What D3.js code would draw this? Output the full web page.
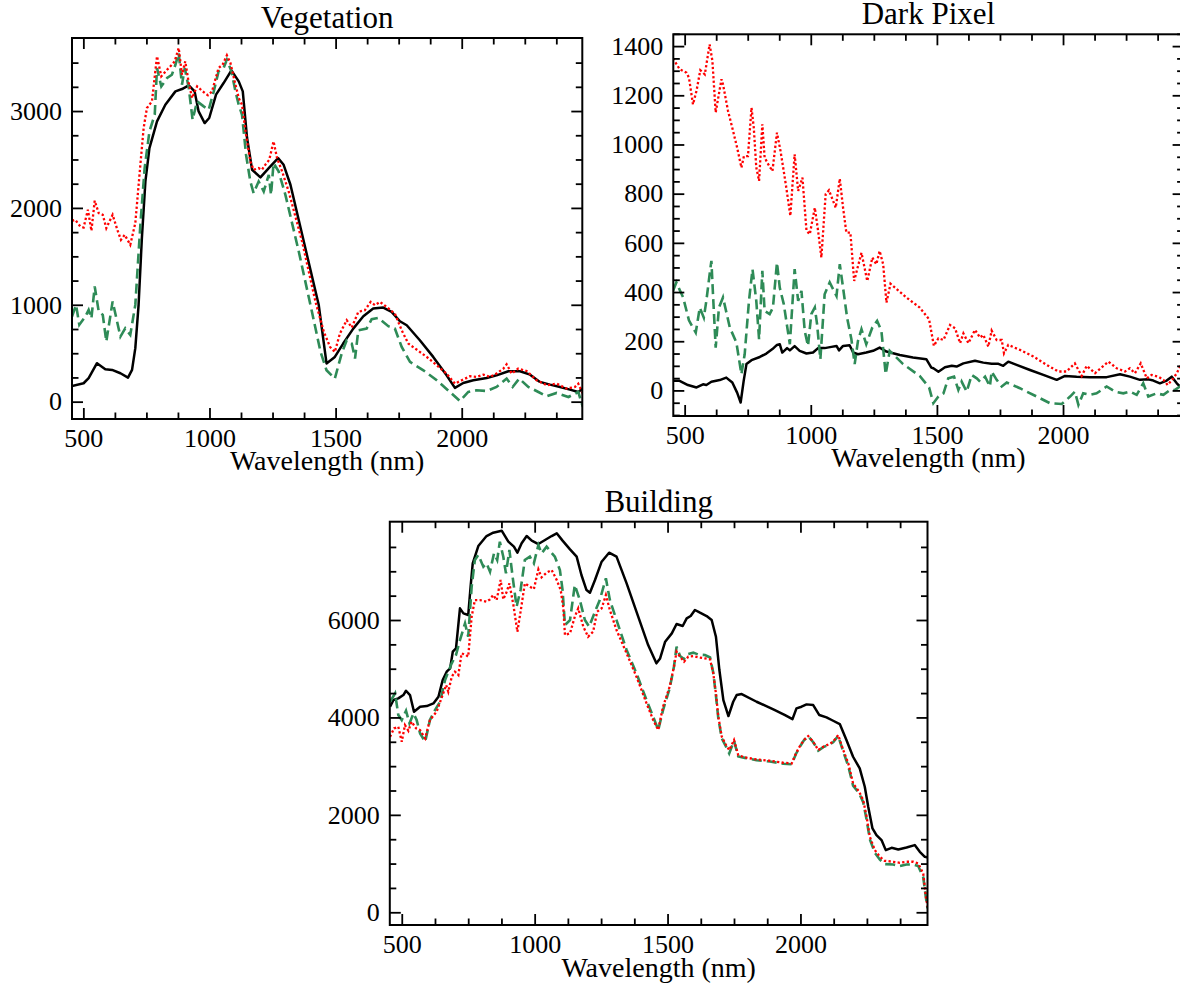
<!DOCTYPE html>
<html>
<head>
<meta charset="utf-8">
<script src="https://cdn.jsdelivr.net/npm/d3@7"></script>
<style>
  body { margin: 0; background: #fff; }
  svg { display: block; }
  text { font-family: "Liberation Serif", "Times New Roman", serif; }
</style>
</head>
<body>
<svg id="chart" width="1180" height="987"></svg>
<script>
// wavelength range shared by all three panels (nm)
const wlRange = [455, 2478];
const xMajor = [500, 1000, 1500, 2000];
const xMinor = [625, 750, 875, 1125, 1250, 1375, 1625, 1750, 1875, 2125, 2250, 2375];

// Vegetation  [wavelength, value]
const vegBlack = [[455,162],[501,190],[521,242],[554,397],[587,335],[614,328],[647,293],[677,248],[693,328],[706,552],[719,1000],[732,1688],[746,2273],[762,2618],[792,2893],[825,3065],[865,3203],[891,3227],[918,3265],[941,3203],[957,2996],[981,2876],[999,2928],[1026,3169],[1056,3289],[1087,3420],[1116,3306],[1132,3203],[1149,2721],[1169,2394],[1202,2315],[1235,2411],[1272,2514],[1294,2445],[1321,2239],[1380,1585],[1433,1000],[1464,395],[1497,462],[1530,600],[1570,754],[1610,882],[1649,961],[1689,971],[1722,927],[1755,830],[1782,789],[1834,634],[1887,462],[1940,272],[1973,142],[2006,193],[2046,221],[2099,245],[2138,272],[2185,314],[2231,314],[2271,279],[2310,204],[2350,176],[2390,152],[2429,124],[2462,100],[2480,135]];
const vegRed = [[455,1867],[468,1877],[488,1808],[501,1798],[518,1981],[532,1764],[545,2074],[561,1946],[577,1929],[591,1791],[616,1929],[637,1757],[649,1671],[664,1722],[686,1619],[706,1843],[726,2445],[739,2824],[752,3031],[772,3100],[792,3565],[809,3358],[832,3427],[851,3478],[862,3513],[878,3651],[891,3375],[904,3513],[918,3289],[931,3134],[951,3255],[973,3203],[994,3162],[1010,3203],[1036,3444],[1052,3478],[1069,3575],[1083,3496],[1100,3306],[1116,3134],[1129,3065],[1145,2755],[1162,2480],[1175,2394],[1195,2411],[1208,2394],[1221,2445],[1237,2497],[1254,2687],[1268,2514],[1288,2377],[1314,2170],[1367,1654],[1420,1034],[1453,724],[1478,565],[1497,513],[1517,703],[1544,841],[1564,765],[1590,927],[1616,944],[1639,1030],[1656,996],[1676,1030],[1702,978],[1735,909],[1762,737],[1788,600],[1821,538],[1861,462],[1901,376],[1940,290],[1973,186],[2000,221],[2033,262],[2059,255],[2086,279],[2112,255],[2138,290],[2165,341],[2178,386],[2198,290],[2224,341],[2257,317],[2297,221],[2337,169],[2376,186],[2416,135],[2449,152],[2462,186],[2480,83]];
const vegGreen = [[455,879],[471,999],[484,793],[508,879],[521,948],[532,861],[545,1189],[561,930],[577,896],[591,620],[616,1034],[647,672],[666,758],[686,689],[706,999],[726,1826],[743,2411],[762,2790],[783,2962],[792,3444],[809,3255],[832,3341],[851,3375],[865,3478],[878,3599],[891,3272],[902,3444],[918,3237],[933,2910],[951,3100],[977,3048],[997,3014],[1017,3203],[1036,3410],[1056,3444],[1069,3530],[1087,3410],[1103,3203],[1116,3065],[1129,2962],[1145,2549],[1162,2273],[1175,2153],[1195,2273],[1215,2170],[1235,2342],[1244,2135],[1254,2463],[1274,2377],[1301,2135],[1354,1550],[1406,930],[1440,517],[1464,324],[1497,238],[1524,496],[1544,634],[1564,600],[1577,445],[1590,737],[1623,754],[1643,851],[1669,865],[1709,779],[1735,754],[1762,565],[1795,410],[1848,324],[1901,221],[1953,100],[1993,7],[2026,100],[2059,117],[2099,110],[2138,152],[2178,238],[2202,152],[2228,238],[2264,152],[2304,100],[2337,55],[2376,90],[2423,48],[2462,100],[2480,-55]];
const vegYMajor = [0, 1000, 2000, 3000];
const vegYMinor = [250, 500, 750, 1250, 1500, 1750, 2250, 2500, 2750, 3250, 3500];

// Dark Pixel
const darkBlack = [[454,39],[480,39],[513,22],[547,12],[573,25],[586,22],[606,35],[639,42],[665,52],[689,32],[708,-9],[722,-49],[734,39],[745,107],[765,123],[798,136],[824,150],[848,168],[866,185],[877,188],[887,154],[906,172],[917,163],[936,180],[956,161],[983,150],[1009,154],[1029,172],[1055,172],[1082,177],[1102,181],[1112,163],[1128,181],[1154,184],[1168,154],[1187,147],[1220,154],[1247,161],[1273,174],[1300,158],[1353,144],[1405,134],[1458,127],[1478,93],[1486,90],[1506,76],[1532,94],[1559,100],[1578,97],[1605,110],[1651,121],[1684,113],[1717,108],[1744,108],[1763,100],[1783,117],[1816,104],[1869,83],[1922,63],[1975,43],[2008,59],[2054,56],[2107,54],[2173,54],[2226,66],[2265,56],[2305,43],[2338,45],[2358,40],[2384,29],[2411,40],[2431,56],[2451,29],[2464,16],[2480,10]];
const darkRed = [[454,1350],[480,1306],[507,1292],[517,1272],[533,1163],[547,1218],[562,1302],[580,1285],[599,1407],[610,1340],[623,1130],[646,1265],[652,1245],[672,1136],[692,1055],[708,987],[725,906],[735,953],[751,953],[765,1150],[774,1069],[784,906],[795,852],[808,1082],[817,947],[831,920],[848,892],[866,1048],[880,974],[901,838],[919,710],[936,960],[950,811],[967,865],[983,649],[996,635],[1016,743],[1029,649],[1042,540],[1059,798],[1072,814],[1099,743],[1115,861],[1128,743],[1141,642],[1157,642],[1172,445],[1201,560],[1224,445],[1244,540],[1260,513],[1273,567],[1287,513],[1300,357],[1316,434],[1379,378],[1432,337],[1469,289],[1488,181],[1506,212],[1526,205],[1552,266],[1572,253],[1592,192],[1605,232],[1625,192],[1651,246],[1671,215],[1684,226],[1704,178],[1717,243],[1737,205],[1757,205],[1766,151],[1783,185],[1829,165],[1882,138],[1935,104],[1981,77],[2014,77],[2047,110],[2074,59],[2094,100],[2127,70],[2180,117],[2213,90],[2246,77],[2265,90],[2285,70],[2308,110],[2332,49],[2351,63],[2378,56],[2398,43],[2415,22],[2437,49],[2451,70],[2464,97],[2480,110]];
const darkGreen = [[454,405],[467,439],[494,378],[517,285],[544,235],[560,337],[576,296],[586,364],[599,472],[606,527],[613,378],[623,174],[636,337],[652,378],[679,256],[705,195],[725,66],[738,147],[755,364],[769,493],[784,364],[795,208],[808,486],[817,323],[837,310],[850,337],[866,520],[877,418],[893,351],[917,188],[936,493],[950,364],[963,405],[976,242],[989,181],[1002,310],[1016,337],[1025,269],[1038,127],[1055,391],[1075,439],[1102,384],[1115,513],[1128,418],[1144,296],[1161,208],[1174,107],[1187,201],[1201,249],[1220,188],[1244,256],[1263,283],[1280,242],[1297,66],[1313,161],[1366,107],[1432,59],[1469,12],[1486,-52],[1506,-25],[1526,-12],[1545,49],[1568,56],[1585,2],[1598,36],[1618,-5],[1638,63],[1658,49],[1671,36],[1691,56],[1710,16],[1717,77],[1737,43],[1757,16],[1777,32],[1829,9],[1896,-25],[1948,-52],[1995,-55],[2028,-25],[2047,-5],[2061,-59],[2080,-12],[2107,-18],[2133,-12],[2173,16],[2206,-5],[2239,-12],[2265,-5],[2292,-18],[2318,29],[2338,-25],[2371,-12],[2398,-18],[2424,2],[2444,2],[2464,16],[2480,20]];
const darkYMajor = [0, 200, 400, 600, 800, 1000, 1200, 1400];
const darkYMinor = [-100, -50, 50, 100, 150, 250, 300, 350, 450, 500, 550, 650, 700, 750, 850, 900, 950, 1050, 1100, 1150, 1250, 1300, 1350, 1450];

// Building
const bldBlack = [[456,4220],[469,4357],[487,4391],[506,4459],[516,4548],[531,4459],[546,4117],[569,4220],[594,4233],[619,4288],[638,4425],[654,4767],[669,4939],[682,5007],[692,5349],[704,5418],[719,6239],[732,6136],[750,6102],[759,6684],[767,7163],[788,7519],[819,7724],[844,7793],[876,7834],[901,7608],[922,7505],[935,7382],[951,7574],[970,7724],[989,7629],[1014,7560],[1039,7642],[1064,7724],[1083,7779],[1105,7629],[1133,7451],[1158,7300],[1176,6924],[1195,6615],[1208,6561],[1227,6821],[1252,7197],[1280,7382],[1308,7300],[1346,6752],[1383,6171],[1427,5486],[1458,5110],[1472,5212],[1491,5555],[1516,5726],[1534,5917],[1557,5876],[1572,6034],[1587,6082],[1603,6205],[1622,6150],[1647,6082],[1666,5999],[1682,5657],[1695,4973],[1710,4357],[1729,4028],[1747,4322],[1760,4459],[1779,4480],[1835,4322],[1898,4165],[1942,4049],[1970,3966],[1985,4186],[2004,4220],[2023,4268],[2048,4254],[2071,4049],[2098,4001],[2123,3932],[2148,3864],[2173,3535],[2198,3193],[2223,2953],[2242,2577],[2255,2166],[2271,1721],[2286,1584],[2305,1482],[2321,1276],[2343,1324],[2368,1290],[2399,1331],[2430,1379],[2449,1242],[2468,1139],[2480,1126]];
const bldRed = [[456,3604],[471,3775],[487,3809],[500,3501],[512,3843],[525,3727],[537,3912],[554,3775],[569,3741],[588,3570],[606,3946],[631,4117],[656,4494],[667,4665],[675,4528],[688,4836],[700,4939],[713,4870],[725,5315],[742,5281],[750,5247],[763,6068],[775,6410],[794,6410],[819,6376],[832,6424],[844,6513],[857,6410],[872,6821],[882,6424],[895,6581],[905,6752],[920,6307],[935,5760],[948,6205],[963,6752],[982,6684],[997,6636],[1014,7040],[1026,6876],[1045,6972],[1064,7026],[1083,6821],[1098,6615],[1108,6239],[1114,5691],[1133,5726],[1151,6068],[1164,6239],[1183,5863],[1201,5657],[1220,5760],[1235,6171],[1252,6239],[1268,6513],[1283,6205],[1308,5794],[1346,5315],[1383,4836],[1421,4288],[1446,3946],[1465,3741],[1483,4220],[1508,4631],[1524,5041],[1534,5349],[1547,5247],[1562,5144],[1578,5247],[1597,5260],[1616,5233],[1641,5212],[1660,5192],[1672,4905],[1682,4494],[1691,4014],[1704,3604],[1720,3433],[1732,3330],[1750,3535],[1766,3227],[1791,3179],[1835,3138],[1885,3111],[1935,3070],[1967,3056],[1983,3262],[1998,3412],[2013,3535],[2029,3617],[2048,3501],[2067,3330],[2086,3398],[2108,3453],[2123,3501],[2142,3638],[2161,3330],[2180,3056],[2198,2645],[2221,2474],[2236,2303],[2249,1961],[2261,1550],[2280,1276],[2299,1139],[2317,1057],[2349,1037],[2374,1016],[2399,1037],[2424,1037],[2443,1002],[2462,797],[2472,318],[2478,113]];
const bldGreen = [[456,4322],[475,4494],[487,4049],[500,3946],[516,4138],[529,3878],[544,4083],[556,3946],[569,3672],[588,3501],[606,3946],[625,4151],[644,4322],[663,4767],[675,4939],[688,5110],[704,5281],[719,5589],[738,5931],[750,5657],[763,6684],[775,7232],[788,7334],[807,7095],[819,7163],[832,6992],[847,7368],[859,7232],[869,7608],[882,7300],[892,6958],[905,7437],[917,6889],[932,6273],[947,6615],[963,7232],[982,7300],[997,7163],[1014,7540],[1026,7368],[1045,7505],[1060,7403],[1076,7300],[1095,7026],[1105,6615],[1114,5897],[1133,5999],[1151,6718],[1170,6410],[1189,5999],[1205,5863],[1227,6171],[1245,6410],[1268,6855],[1283,6410],[1308,5999],[1346,5384],[1383,4904],[1421,4357],[1446,4014],[1465,3741],[1483,4151],[1508,4596],[1524,5041],[1534,5452],[1547,5260],[1562,5200],[1578,5300],[1597,5330],[1616,5290],[1641,5280],[1660,5230],[1672,4920],[1682,4450],[1691,3980],[1704,3570],[1720,3400],[1732,3262],[1750,3520],[1766,3200],[1791,3170],[1835,3120],[1885,3095],[1935,3050],[1967,3040],[1983,3250],[1998,3400],[2013,3530],[2029,3617],[2048,3490],[2067,3320],[2086,3390],[2108,3440],[2123,3490],[2142,3620],[2161,3300],[2180,3000],[2198,2600],[2221,2440],[2236,2260],[2249,1900],[2261,1500],[2280,1220],[2299,1080],[2317,990],[2349,980],[2374,950],[2399,980],[2424,980],[2443,950],[2462,720],[2472,300],[2478,80]];
const bldYMajor = [0, 2000, 4000, 6000];
const bldYMinor = [500, 1000, 1500, 2500, 3000, 3500, 4500, 5000, 5500, 6500, 7000, 7500];

const svg = d3.select("#chart");
const FONT = "Liberation Serif, Times New Roman, serif";
const fmt = d3.format("d");

function drawPanel(p, idx) {
  const w = p.right - p.left, h = p.bottom - p.top;
  const g = svg.append("g").attr("transform", `translate(${p.left},${p.top})`);

  const x = d3.scaleLinear().domain(wlRange).range([0, w]);
  const y = d3.scaleLinear().domain(p.yDomain).range([h, 0]);

  g.append("clipPath").attr("id", "clip" + idx)
    .append("rect").attr("width", w).attr("height", h);

  const line = d3.line().x(d => x(d[0])).y(d => y(d[1]));
  const plot = g.append("g").attr("clip-path", `url(#clip${idx})`);

  // black = original, green dashed, red dotted on top
  plot.append("path").datum(p.black)
    .attr("d", line).attr("fill", "none")
    .attr("stroke", "#000").attr("stroke-width", 2.5)
    .attr("stroke-linejoin", "round");
  plot.append("path").datum(p.green)
    .attr("d", line).attr("fill", "none")
    .attr("stroke", "#2e8b57").attr("stroke-width", 2.6)
    .attr("stroke-dasharray", "10,5");
  plot.append("path").datum(p.red)
    .attr("d", line).attr("fill", "none")
    .attr("stroke", "#ff0000").attr("stroke-width", 2.3)
    .attr("stroke-dasharray", "2.3,2.3");

  // ticks point inward on all four sides
  const axes = [
    [d3.axisBottom(x).tickValues(xMajor).tickSize(-11).tickPadding(10).tickFormat(fmt), `translate(0,${h})`],
    [d3.axisBottom(x).tickValues(xMinor).tickSize(-6.5).tickFormat(""), `translate(0,${h})`],
    [d3.axisTop(x).tickValues(xMajor).tickSize(-11).tickFormat(""), null],
    [d3.axisTop(x).tickValues(xMinor).tickSize(-6.5).tickFormat(""), null],
    [d3.axisLeft(y).tickValues(p.yMajor).tickSize(-11).tickPadding(10).tickFormat(fmt), null],
    [d3.axisLeft(y).tickValues(p.yMinor).tickSize(-6.5).tickFormat(""), null],
    [d3.axisRight(y).tickValues(p.yMajor).tickSize(-11).tickFormat(""), `translate(${w},0)`],
    [d3.axisRight(y).tickValues(p.yMinor).tickSize(-6.5).tickFormat(""), `translate(${w},0)`]
  ];
  axes.forEach(([ax, tr]) => {
    const a = g.append("g").call(ax)
      .attr("font-family", FONT).attr("font-size", 26);
    if (tr) a.attr("transform", tr);
    a.select(".domain").remove();
    a.selectAll(".tick line").attr("stroke", "#000").attr("stroke-width", 1.8);
    a.selectAll("text").style("font-family", FONT).style("font-size", "26px").attr("fill", "#000");
  });

  g.append("rect").attr("width", w).attr("height", h)
    .attr("fill", "none").attr("stroke", "#000").attr("stroke-width", 2);

  g.append("text").attr("x", w / 2).attr("y", -10)
    .attr("text-anchor", "middle")
    .style("font-size", "31px").text(p.title);

  g.append("text").attr("x", w / 2).attr("y", h + p.xTitleGap)
    .attr("text-anchor", "middle")
    .style("font-size", "28px").text("Wavelength (nm)");
}

const panels = [
  { title: "Vegetation", left: 72, right: 582.3, top: 38, bottom: 419,
    yDomain: [-179, 3754], yMajor: vegYMajor, yMinor: vegYMinor, xTitleGap: 51,
    black: vegBlack, red: vegRed, green: vegGreen },
  { title: "Dark Pixel", left: 673.3, right: 1183.6, top: 34.3, bottom: 416,
    yDomain: [-104, 1448], yMajor: darkYMajor, yMinor: darkYMinor, xTitleGap: 51,
    black: darkBlack, red: darkRed, green: darkGreen },
  { title: "Building", left: 389.8, right: 927.5, top: 521.7, bottom: 925,
    yDomain: [-261, 8018], yMajor: bldYMajor, yMinor: bldYMinor, xTitleGap: 52,
    black: bldBlack, red: bldRed, green: bldGreen }
];

panels.forEach(drawPanel);
</script>
</body>
</html>
